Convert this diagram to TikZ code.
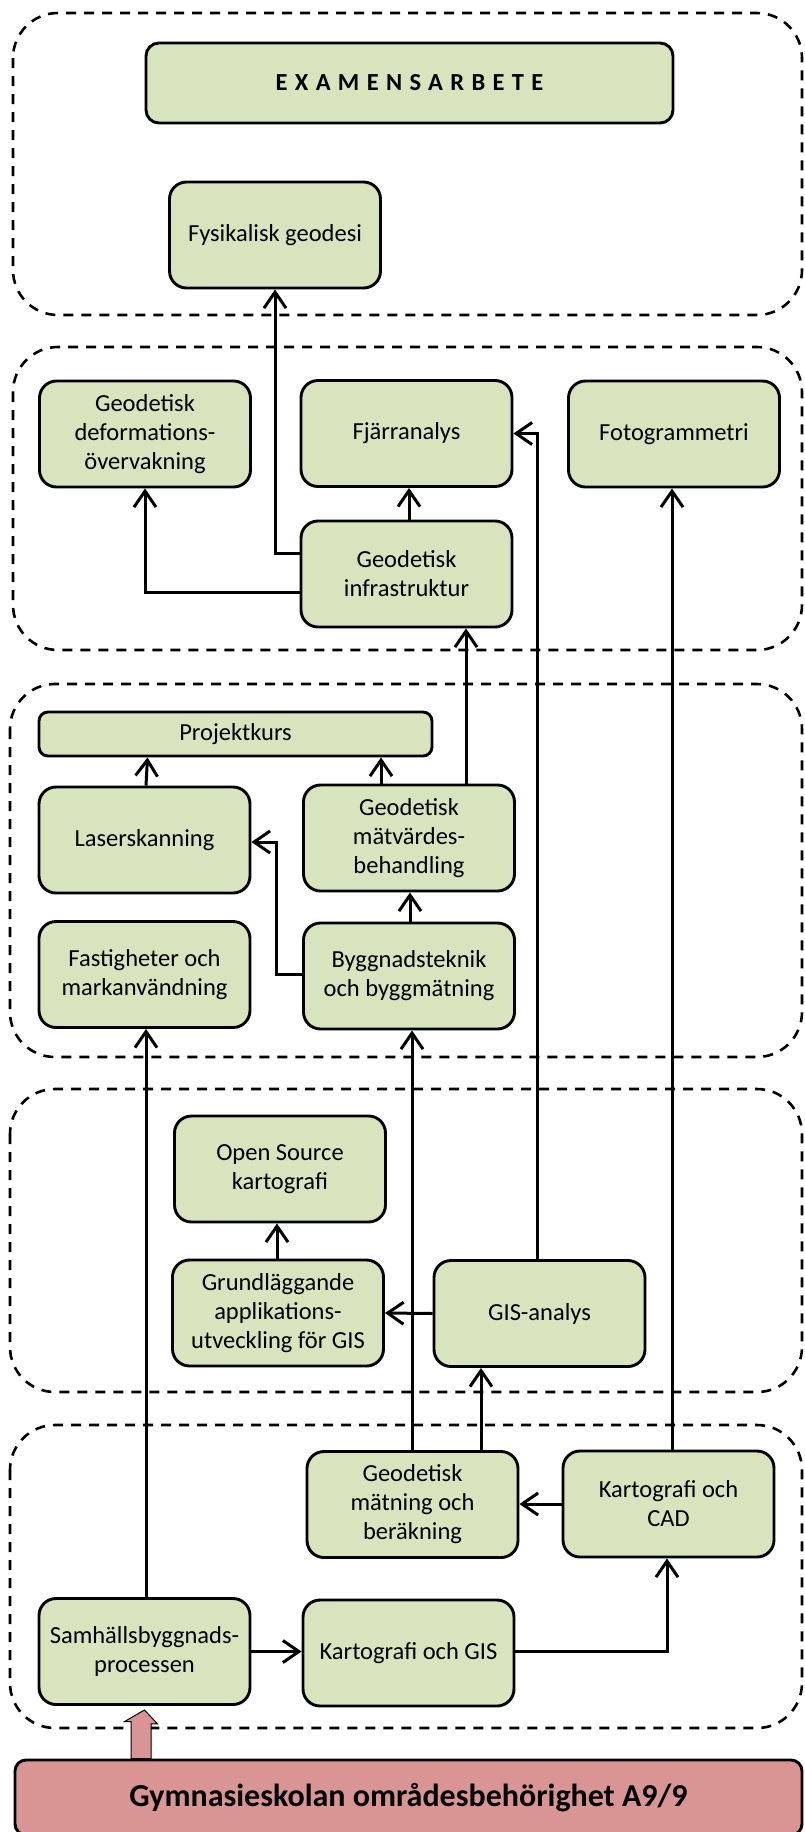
\documentclass[tikz,border=0pt]{standalone}
\usepackage{fontspec}
\setmainfont{Carlito}
\usetikzlibrary{arrows.meta}
\definecolor{boxgreen}{HTML}{D7E4BD}
\definecolor{entrypink}{HTML}{D99594}
\begin{document}
\begin{tikzpicture}[x=1pt, y=-1pt,
  course/.style={draw, line width=2.9pt, fill=boxgreen, rounded corners=17pt,
    minimum width=211pt, minimum height=106pt, inner sep=0pt, align=center,
    font=\fontsize{24.5}{29}\selectfont},
  group/.style={draw, line width=2.6pt, dash pattern=on 10pt off 8pt, rounded corners=45pt},
  conn/.style={line width=3pt, -{Straight Barb[length=16pt,width=22pt]}},
  entry/.style={draw, line width=2.9pt, fill=entrypink, rounded corners=11pt, inner sep=0pt,
    font=\fontsize{32}{36}\selectfont\bfseries},
  liftarrow/.style={draw, line width=1pt, fill=entrypink, line join=miter}
]
\path[use as bounding box, clip] (0,0) rectangle (804,1832);

% programme levels
\draw[group] (13,13) rectangle (802,315);
\draw[group] (13,347) rectangle (802,650);
\draw[group] (10,684) rectangle (802,1057);
\draw[group] (10,1089) rectangle (802,1392);
\draw[group] (10,1425) rectangle (802,1728);

% degree project and top level
\node[course, minimum width=527pt, minimum height=80pt, rounded corners=13pt,
  font=\fontsize{24.5}{28}\selectfont\bfseries\addfontfeature{LetterSpace=30}] (exam) at (409.5,83) {EXAMENSARBETE};
\node[course] (fys) at (275,235) {Fysikalisk geodesi};

% second level
\node[course] (deform) at (145,434) {Geodetisk\\deformations-\\övervakning};
\node[course] (fjarr) at (406.5,433.5) {Fjärranalys};
\node[course] (foto) at (674,434) {Fotogrammetri};
\node[course] (infra) at (406.5,574) {Geodetisk\\infrastruktur};

% third level
\node[course, minimum width=393pt, minimum height=44pt, rounded corners=9pt] (projekt) at (235.5,734) {Projektkurs};
\node[course] (laser) at (144.5,840) {Laserskanning};
\node[course] (matv) at (409,838) {Geodetisk\\mätvärdes-\\behandling};
\node[course] (fastig) at (144.5,974.5) {Fastigheter och\\markanvändning};
\node[course] (bygg) at (409,976) {Byggnadsteknik\\och byggmätning};

% fourth level
\node[course] (open) at (280,1169) {Open Source\\kartografi};
\node[course] (grund) at (278,1313) {Grundläggande\\applikations-\\utveckling för GIS};
\node[course] (gis) at (539.5,1313.5) {GIS-analys};

% first level
\node[course] (gmatn) at (412.5,1504.5) {Geodetisk\\mätning och\\beräkning};
\node[course] (cad) at (668.5,1504) {Kartografi och\\CAD};
\node[course] (samh) at (144.5,1651.5) {Samhällsbyggnads-\\processen};
\node[course] (kgis) at (408.5,1653) {Kartografi och GIS};

% entry requirement
\node[entry, minimum width=787pt, minimum height=75pt] (gymn) at (408.5,1797.5) {Gymnasieskolan områdesbehörighet A9/9};

% prerequisites
\draw[conn] ([yshift=21pt]infra.west) -| (fys.south);
\draw[conn] ([yshift=-18pt]infra.west) -| (deform.south);
\draw[conn] ([xshift=2.5pt]infra.north) -- ([xshift=2.5pt]fjarr.south);
\draw[conn] ([xshift=-2.5pt]gis.north) |- (fjarr.east);
\draw[conn] ([xshift=3.5pt]cad.north) -- ([xshift=-2pt]foto.south);
\draw[conn] ([xshift=57pt]matv.north) -- ([xshift=59.5pt]infra.south);
\draw[conn] ([xshift=1.5pt]laser.north) -- ([xshift=-88pt]projekt.south);
\draw[conn] ([xshift=-28pt]matv.north) -- ([xshift=145.5pt]projekt.south);
\draw[conn] ([xshift=1pt]bygg.north) -- ([xshift=1pt]matv.south);
\draw[conn] ([yshift=2pt]bygg.west) -- ++(-26,0) |- ([yshift=-2pt]laser.east);
\draw[conn] ([xshift=1.5pt]samh.north) -- ([xshift=1.5pt]fastig.south);
\draw[conn] ([xshift=-0.5pt]gmatn.north) -- ([xshift=3pt]bygg.south);
\draw[conn] ([xshift=68.5pt]gmatn.north) -- ([xshift=-58.5pt]gis.north |- gis.south);
\draw[conn] ([xshift=-1pt]grund.north) -- ([xshift=-3pt]open.south);
\draw[conn] (gis.west) -- (grund.east);
\draw[conn] (cad.west) -- (cad.west -| gmatn.east);
\draw[conn] (samh.east) -- (samh.east -| kgis.west);
\draw[conn] ([yshift=2pt]kgis.east) -| ([xshift=-1.5pt]cad.south);

% entry arrow
\draw[liftarrow] ([yshift=-4pt]samh.south) -- ++(13,14) -- ++(-6.5,0) |- ([xshift=-264.5pt]gymn.north)
  -- ++(-13,0) -- ++(0,-37) -- ++(-6.5,0) -- cycle;
\end{tikzpicture}
\end{document}
